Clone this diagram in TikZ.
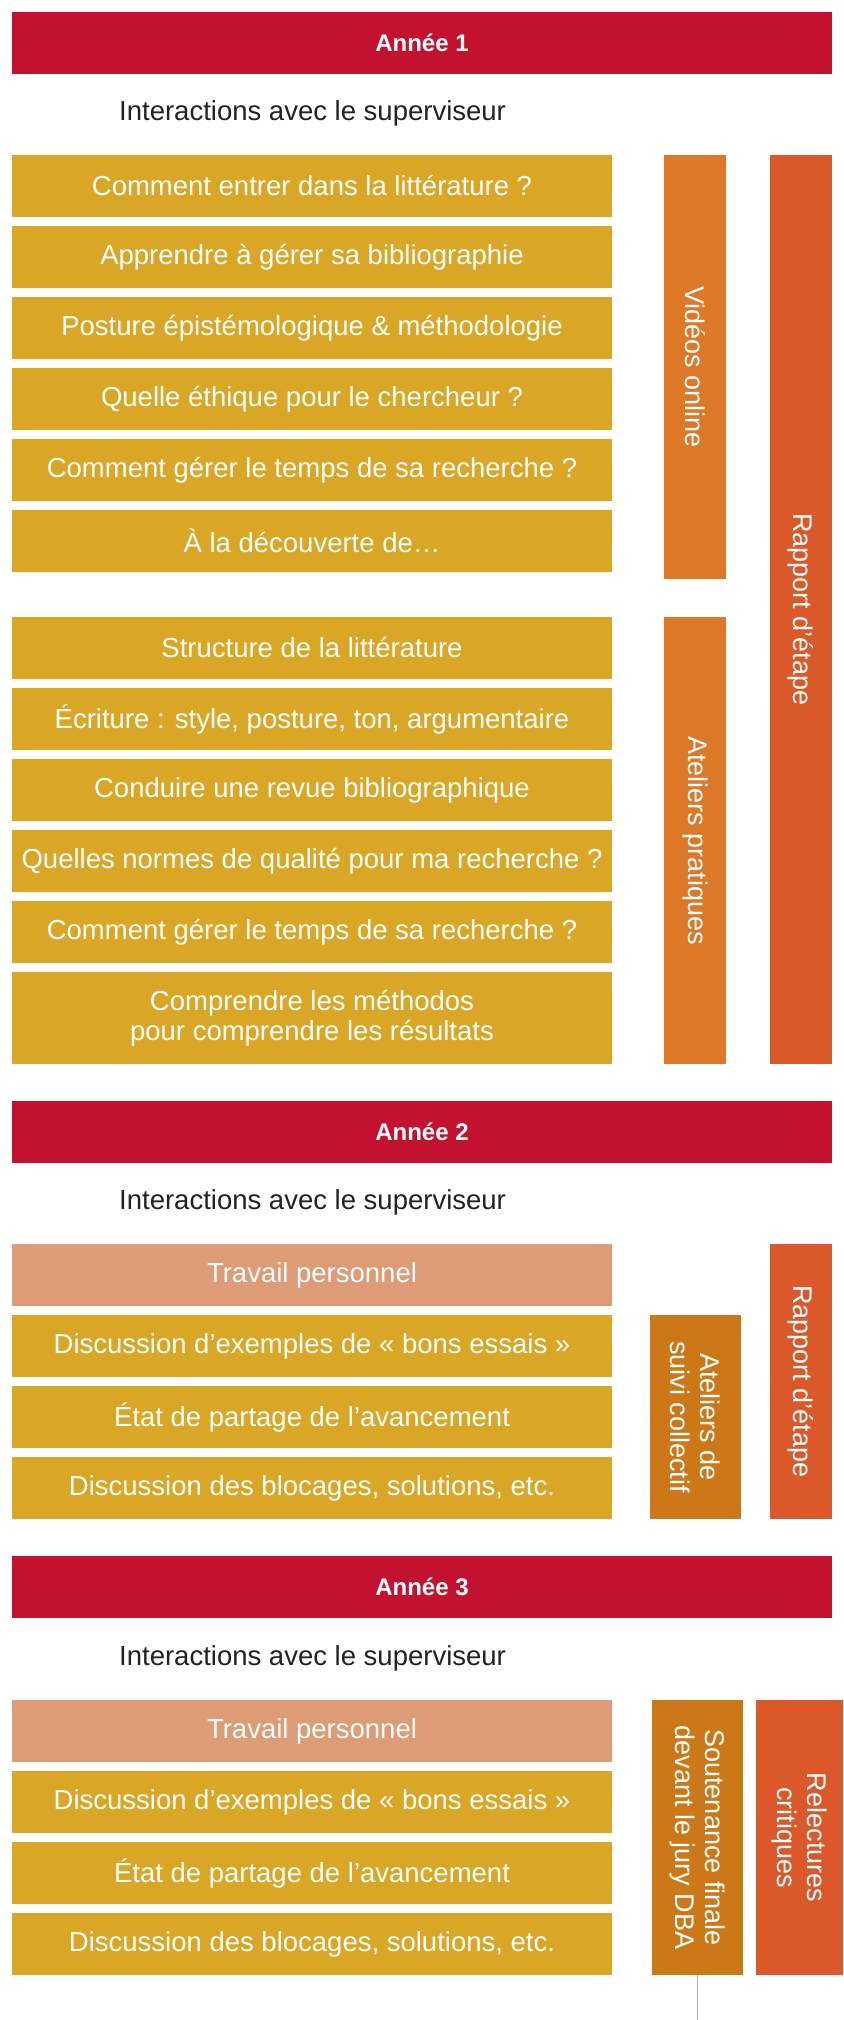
\documentclass[tikz,border=0pt]{standalone}
\usepackage{fontspec}
\setmainfont{Liberation Sans}
\definecolor{bannerred}{HTML}{C31230}
\definecolor{boxyellow}{HTML}{DAA625}
\definecolor{boxsalmon}{HTML}{DD9B76}
\definecolor{barorange}{HTML}{DC7828}
\definecolor{barred}{HTML}{DA5829}
\definecolor{bardark}{HTML}{CC7818}
\definecolor{txtdark}{HTML}{222222}
\definecolor{linegray}{HTML}{B3ABA7}
\begin{document}
\begin{tikzpicture}[x=1pt,y=-1pt,
  banner/.style={fill=bannerred,text=white,minimum width=820pt,minimum height=62pt,inner sep=0pt,
    font=\fontsize{24}{27}\selectfont\bfseries},
  inter/.style={anchor=west,text=txtdark,inner sep=0pt,font=\fontsize{27.5}{30}\selectfont},
  ybox/.style={fill=boxyellow,text=white,minimum width=600pt,minimum height=62pt,inner sep=0pt,
    align=center,font=\fontsize{27.5}{30}\selectfont},
  sbox/.style={ybox,fill=boxsalmon},
  vbar/.style={rotate=-90,text=white,inner sep=0pt,align=center,
    font=\fontsize{27}{30}\selectfont},
]
\useasboundingbox (0,0) rectangle (843,2020);

% ---------- Année 1 ----------
\node[banner] (y1) at (422,43) {Année 1};
\node[inter] (i1) at (119,113) {Interactions avec le superviseur};

\node[ybox] (a1) at (312,186) {Comment entrer dans la littérature ?};
\node[ybox] (a2) at (312,257) {Apprendre à gérer sa bibliographie};
\node[ybox] (a3) at (312,328) {Posture épistémologique \& méthodologie};
\node[ybox] (a4) at (312,399) {Quelle éthique pour le chercheur ?};
\node[ybox] (a5) at (312,470) {Comment gérer le temps de sa recherche ?};
\node[ybox] (a6) at (312,541) {À la découverte de…};

\node[ybox] (b1) at (312,648) {Structure de la littérature};
\node[ybox] (b2) at (312,719) {Écriture : style, posture, ton, argumentaire};
\node[ybox] (b3) at (312,790) {Conduire une revue bibliographique};
\node[ybox] (b4) at (312,861) {Quelles normes de qualité pour ma recherche ?};
\node[ybox] (b5) at (312,932) {Comment gérer le temps de sa recherche ?};
\node[ybox,minimum height=92pt] (b6) at (312,1018) {Comprendre les méthodos\\pour comprendre les résultats};

\node[vbar,fill=barorange,minimum width=424pt,minimum height=62pt] (vid) at (695,367) {Vidéos online};
\node[vbar,fill=barorange,minimum width=447pt,minimum height=62pt] (atp) at (695,840.5) {Ateliers pratiques};
\node[vbar,fill=barred,minimum width=909pt,minimum height=62pt] (rap1) at (801,609.5) {Rapport d’étape};

% ---------- Année 2 ----------
\node[banner] (y2) at (422,1132) {Année 2};
\node[inter] (i2) at (119,1202) {Interactions avec le superviseur};

\node[sbox] (c1) at (312,1275) {Travail personnel};
\node[ybox] (c2) at (312,1346) {Discussion d’exemples de « bons essais »};
\node[ybox] (c3) at (312,1417) {État de partage de l’avancement};
\node[ybox] (c4) at (312,1488) {Discussion des blocages, solutions, etc.};

\node[vbar,fill=bardark,minimum width=204pt,minimum height=91pt] (ats) at (695.5,1417) {Ateliers de\\suivi collectif};
\node[vbar,fill=barred,minimum width=275pt,minimum height=62pt] (rap2) at (801,1381.5) {Rapport d’étape};

% ---------- Année 3 ----------
\node[banner] (y3) at (422,1587) {Année 3};
\node[inter] (i3) at (119,1658) {Interactions avec le superviseur};

\node[sbox] (d1) at (312,1731) {Travail personnel};
\node[ybox] (d2) at (312,1802) {Discussion d’exemples de « bons essais »};
\node[ybox] (d3) at (312,1873) {État de partage de l’avancement};
\node[ybox] (d4) at (312,1944) {Discussion des blocages, solutions, etc.};

\node[vbar,fill=bardark,minimum width=275pt,minimum height=91pt] (sout) at (697.5,1837.5) {Soutenance finale\\devant le jury DBA};
\node[vbar,fill=barred,minimum width=275pt,minimum height=87pt] (rel) at (799.5,1837.5) {Relectures\\critiques};

\coordinate (lineend) at (697.5,2020);
\draw[linegray,line width=1.2pt] (sout.east) -- (lineend);
\end{tikzpicture}
\end{document}
